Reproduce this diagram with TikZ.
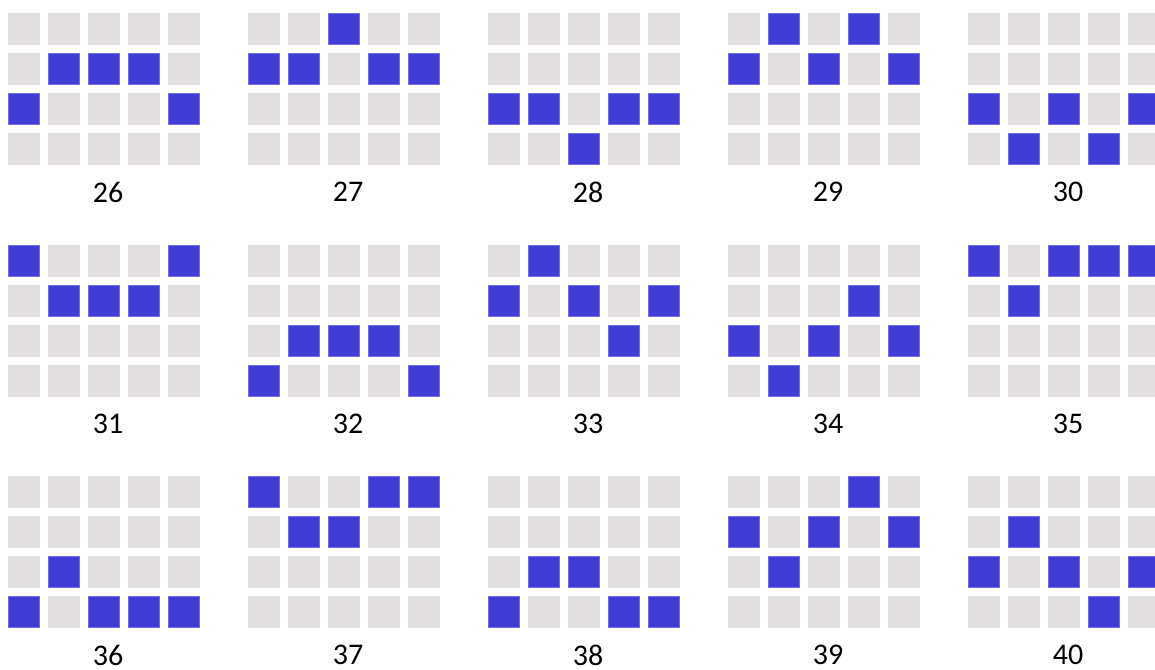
\documentclass[tikz,border=0pt]{standalone}
\usepackage{fontspec}
\setmainfont{Carlito}
\definecolor{cellblue}{HTML}{423CD6}
\definecolor{cellgray}{HTML}{E3DFE0}
\tikzset{
  offcell/.style={fill=cellgray},
  oncell/.style={fill=cellblue, draw=cellblue!75!white, line width=0.6pt},
  numlabel/.style={font=\fontsize{30}{36}\selectfont, text=black, inner sep=0pt}
}
\begin{document}
\begin{tikzpicture}[x=1pt,y=-1pt]
\useasboundingbox (0,0) rectangle (1155,669);
\clip (0,0) rectangle (1155,669);
\foreach \g/\cells in {
  0/{1/1,1/2,1/3,2/0,2/4},
  1/{0/2,1/0,1/1,1/3,1/4},
  2/{2/0,2/1,2/3,2/4,3/2},
  3/{0/1,0/3,1/0,1/2,1/4},
  4/{2/0,2/2,2/4,3/1,3/3},
  5/{0/0,0/4,1/1,1/2,1/3},
  6/{2/1,2/2,2/3,3/0,3/4},
  7/{0/1,1/0,1/2,1/4,2/3},
  8/{1/3,2/0,2/2,2/4,3/1},
  9/{0/0,0/2,0/3,0/4,1/1},
  10/{2/1,3/0,3/2,3/3,3/4},
  11/{0/0,0/3,0/4,1/1,1/2},
  12/{2/1,2/2,3/0,3/3,3/4},
  13/{0/3,1/0,1/2,1/4,2/1},
  14/{1/1,2/0,2/2,2/4,3/3}} {
  \pgfmathtruncatemacro{\gx}{mod(\g,5)}
  \pgfmathtruncatemacro{\gy}{int(\g/5)}
  \pgfmathsetmacro{\ox}{8+240*\gx}
  \pgfmathsetmacro{\oy}{13+231.5*\gy}
  \pgfmathtruncatemacro{\num}{26+\g}
  \foreach \r in {0,...,3} {
    \foreach \c in {0,...,4} {
      \fill[offcell] (\ox+40*\c,\oy+40*\r) rectangle ++(32,32);
    }
  }
  \foreach \r/\c in \cells {
    \filldraw[oncell] (\ox+40*\c+0.3,\oy+40*\r+0.3) rectangle ++(31.4,31.4);
  }
  \node[numlabel] (lab\num) at (\ox+100,\oy+179) {\num};
}
\end{tikzpicture}
\end{document}
